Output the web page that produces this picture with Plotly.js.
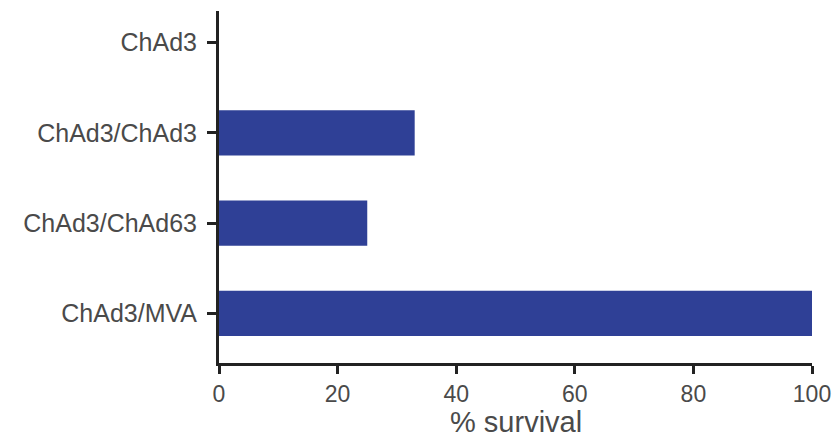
<!DOCTYPE html>
<html>
<head>
<meta charset="utf-8">
<script src="https://cdn.plot.ly/plotly-3.0.1.min.js"></script>
<style>html,body{margin:0;padding:0;background:#fff;}#chart{width:838px;height:440px;}</style>
</head>
<body>
<div id="chart"></div>
<script>
// Categories listed top to bottom as in the figure
const categories = ["ChAd3", "ChAd3/ChAd3", "ChAd3/ChAd63", "ChAd3/MVA"];
const survival = [0, 33, 25, 100];
const xTicks = [0, 20, 40, 60, 80, 100];
const xTitle = "% survival";

const data = [{
  type: "bar",
  orientation: "h",
  y: categories,
  x: survival,
  width: 0.5,
  marker: {color: "#2f4096", line: {width: 0}},
  hoverinfo: "x+y"
}];

const layout = {
  width: 838,
  height: 440,
  margin: {l: 219, r: 26, t: 11, b: 77},
  paper_bgcolor: "#ffffff",
  plot_bgcolor: "#ffffff",
  showlegend: false,
  font: {family: "Liberation Sans, Arial, sans-serif", color: "#4a4a4a"},
  xaxis: {
    range: [0, 100],
    tickvals: xTicks,
    ticktext: xTicks.map(String),
    showgrid: false,
    zeroline: false,
    showline: true,
    linecolor: "#222222",
    linewidth: 3,
    ticks: "outside",
    ticklen: 8,
    tickwidth: 3,
    tickcolor: "#222222",
    tickfont: {size: 23, color: "#4a4a4a"}
  },
  yaxis: {
    type: "category",
    categoryorder: "array",
    categoryarray: categories.slice().reverse(),
    range: [-0.55, 3.35],
    showgrid: false,
    zeroline: false,
    showline: true,
    linecolor: "#222222",
    linewidth: 3,
    ticks: "outside",
    ticklen: 9,
    tickwidth: 3,
    tickcolor: "#222222",
    tickfont: {size: 25, color: "#4a4a4a"},
    ticklabelstandoff: 5
  },
  annotations: [{
    text: xTitle,
    xref: "paper", yref: "paper",
    x: 0.5, y: 0,
    xanchor: "center", yanchor: "top",
    yshift: -42,
    borderpad: 0,
    showarrow: false,
    font: {size: 29, color: "#4a4a4a"}
  }]
};

Plotly.newPlot("chart", data, layout, {displayModeBar: false, staticPlot: true});
</script>
</body>
</html>
